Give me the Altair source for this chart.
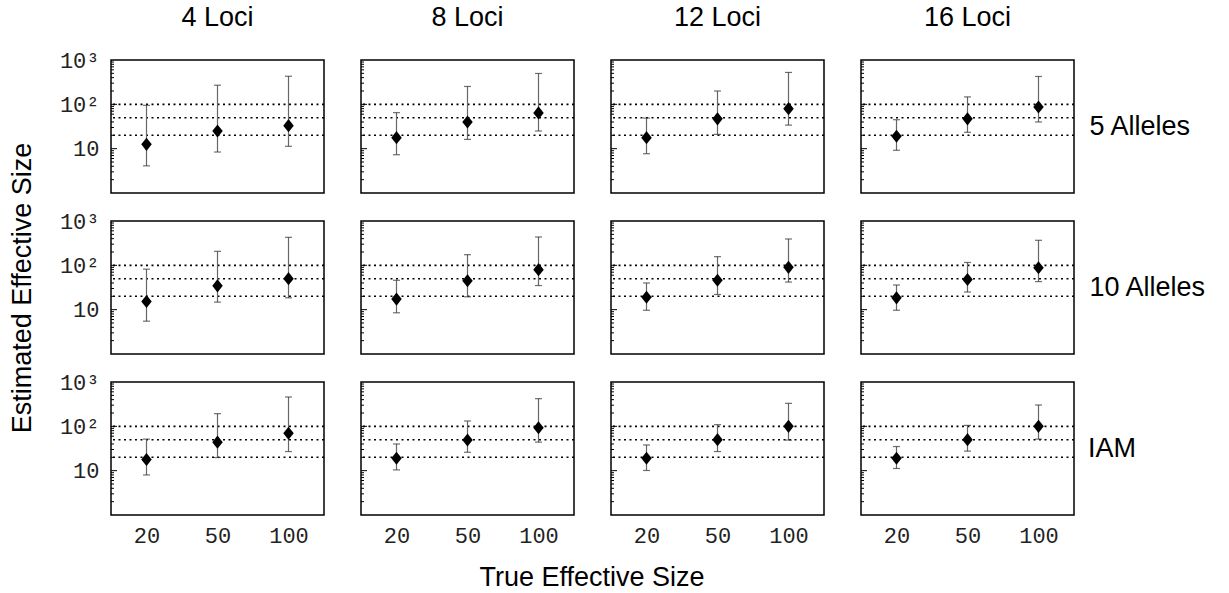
import altair as alt
import pandas as pd

# Facet categories
loci = ["4 Loci", "8 Loci", "12 Loci", "16 Loci"]
alleles = ["5 Alleles", "10 Alleles", "IAM"]
true_sizes = ["20", "50", "100"]

# Point estimates (rows: allele model, cols: loci, inner: true size 20/50/100)
est_5 = [[12.5, 25, 33], [17.7, 40, 64], [17.7, 47, 80], [19, 47, 87]]
lo_5 = [[4.1, 8.4, 11.3], [7.3, 16.2, 25], [7.7, 21, 34], [9.2, 23.4, 40]]
hi_5 = [[95, 270, 430], [65, 253, 497], [49, 200, 524], [45, 147, 425]]

est_10 = [[15.3, 34.5, 50], [17.3, 45, 80], [19, 46, 90], [18.5, 48, 88]]
lo_10 = [[5.5, 14.8, 18.5], [8.5, 19.5, 35], [9.7, 22, 42], [9.7, 25, 43]]
hi_10 = [[82, 207, 428], [46, 174, 436], [40, 157, 393], [36, 116, 367]]

est_iam = [[17.9, 44, 70], [19, 49, 93], [19, 50, 100], [19, 50, 100]]
lo_iam = [[8, 19.8, 27], [10.4, 26, 44], [10.1, 27, 49], [11.2, 27.6, 51.5]]
hi_iam = [[51.5, 193, 459], [40, 132, 421], [38, 109, 330], [35, 105, 303]]

ref_lines = [20, 50, 100]
major_ticks = [10, 100]
minor_ticks = [2, 3, 4, 5, 6, 7, 8, 9, 20, 30, 40, 60, 70, 80, 90, 200, 300, 400, 500, 600, 700, 800, 900]

series = {
    "5 Alleles": (est_5, lo_5, hi_5),
    "10 Alleles": (est_10, lo_10, hi_10),
    "IAM": (est_iam, lo_iam, hi_iam),
}

rows = []
for a in alleles:
    est, lo, hi = series[a]
    for j, l in enumerate(loci):
        for k, t in enumerate(true_sizes):
            rows.append(dict(allele=a, loci=l, kind="pt", true=t, est=est[j][k], lo=lo[j][k], hi=hi[j][k]))
        for v in ref_lines:
            rows.append(dict(allele=a, loci=l, kind="ref", true=None, est=v, lo=None, hi=None))
        for v in major_ticks:
            rows.append(dict(allele=a, loci=l, kind="major", true=None, est=v, lo=None, hi=None))
        for v in minor_ticks:
            rows.append(dict(allele=a, loci=l, kind="minor", true=None, est=v, lo=None, hi=None))
df = pd.DataFrame(rows)

yscale = alt.Scale(type="log", domain=[1, 1000], nice=False)
xscale = alt.Scale(type="point", domain=true_sizes, padding=0.5)

yaxis = alt.Axis(
    values=[10, 100, 1000],
    labelExpr="datum.value == 10 ? '10' : datum.value == 100 ? '10\u00b2' : '10\u00b3'",
    ticks=False, domain=False, grid=False,
    labelFont="Liberation Mono", labelFontSize=22, labelColor="#222", labelPadding=10,
    title=None,
)
xaxis = alt.Axis(
    ticks=False, domain=False, grid=False, labelAngle=0,
    labelFont="Liberation Mono", labelFontSize=22, labelColor="#222", labelPadding=9,
    title=None,
)

base = alt.Chart()

refs = base.transform_filter(alt.datum.kind == "ref").mark_rule(
    color="black", strokeDash=[2, 3.5], strokeWidth=1.6
).encode(y=alt.Y("est:Q", scale=yscale, axis=yaxis))

majors = base.transform_filter(alt.datum.kind == "major").mark_rule(
    color="black", strokeWidth=1
).encode(y=alt.Y("est:Q", scale=yscale), x=alt.value(0), x2=alt.value(6))

minors = base.transform_filter(alt.datum.kind == "minor").mark_rule(
    color="black", strokeWidth=1
).encode(y=alt.Y("est:Q", scale=yscale), x=alt.value(0), x2=alt.value(3))

pts = base.transform_filter(alt.datum.kind == "pt")

bars = pts.mark_rule(color="#666", strokeWidth=1.2).encode(
    x=alt.X("true:N", scale=xscale, axis=xaxis, sort=true_sizes),
    y=alt.Y("lo:Q", scale=yscale),
    y2="hi:Q",
)
cap_hi = pts.mark_tick(orient="horizontal", color="#333", size=7, thickness=1.2).encode(
    x=alt.X("true:N", scale=xscale, sort=true_sizes),
    y=alt.Y("hi:Q", scale=yscale),
)
cap_lo = pts.mark_tick(orient="horizontal", color="#333", size=7, thickness=1.2).encode(
    x=alt.X("true:N", scale=xscale, sort=true_sizes),
    y=alt.Y("lo:Q", scale=yscale),
)
dots = pts.mark_point(shape="M0,-1.15L0.92,0L0,1.15L-0.92,0Z", filled=True,
                      color="black", opacity=1, size=130).encode(
    x=alt.X("true:N", scale=xscale, sort=true_sizes),
    y=alt.Y("est:Q", scale=yscale),
)

layered = alt.layer(refs, minors, majors, bars, cap_hi, cap_lo, dots).properties(width=213, height=133)

chart = layered.facet(
    data=df,
    column=alt.Column("loci:N", sort=loci, title="True Effective Size",
                      header=alt.Header(labelFont="Liberation Sans", labelFontSize=27,
                                        labelColor="black", labelPadding=27, labelOrient="top",
                                        titleOrient="bottom", titleFont="Liberation Sans",
                                        titleFontSize=27, titleFontWeight="normal",
                                        titleColor="black", titlePadding=9)),
    row=alt.Row("allele:N", sort=alleles, title="Estimated Effective Size",
                header=alt.Header(labelFont="Liberation Sans", labelFontSize=27,
                                  labelColor="black", labelOrient="right", labelAngle=0,
                                  labelAlign="right", labelPadding=12,
                                  titleOrient="left", titleFont="Liberation Sans",
                                  titleFontSize=27, titleFontWeight="normal",
                                  titleColor="black", titlePadding=12)),
    spacing={"row": 26, "column": 33},
    background="white",
    padding={"left": 8, "top": 4, "right": 2, "bottom": 0},
).configure_view(
    stroke="black", strokeWidth=1.5
)

chart.save("out.html", embed_options={"renderer": "svg", "actions": False})
